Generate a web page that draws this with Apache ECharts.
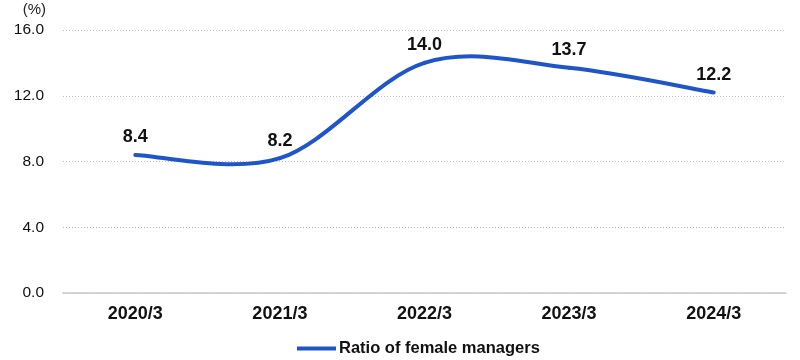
<!DOCTYPE html>
<html><head><meta charset="utf-8">
<script src="https://cdn.jsdelivr.net/npm/echarts@6/dist/echarts.min.js"></script>
<style>html,body{margin:0;padding:0;background:#fff}#c{width:800px;height:360px}</style>
</head><body><div id="c"></div>
<script>
const categories = ['2020/3','2021/3','2022/3','2023/3','2024/3'];
const ratioValues = [8.4, 8.2, 14.0, 13.7, 12.2];
const yTicks = [0, 4, 8, 12, 16];
const seriesName = 'Ratio of female managers';
const lineColor = '#1f55c8';

function renderSpline(params, api) {
  const i = params.dataIndex;
  const n = ratioValues.length;
  if (i >= n - 1) return null;
  const pt = k => api.coord([Math.max(0, Math.min(n - 1, k)), ratioValues[Math.max(0, Math.min(n - 1, k))]]);
  const p0 = pt(i - 1), p1 = pt(i), p2 = pt(i + 1), p3 = pt(i + 2);
  return {
    type: 'bezierCurve',
    shape: {
      x1: p1[0], y1: p1[1], x2: p2[0], y2: p2[1],
      cpx1: p1[0] + (p2[0] - p0[0]) / 6, cpy1: p1[1] + (p2[1] - p0[1]) / 6,
      cpx2: p2[0] - (p3[0] - p1[0]) / 6, cpy2: p2[1] - (p3[1] - p1[1]) / 6
    },
    style: {stroke: lineColor, lineWidth: 4, fill: null, lineCap: 'round'}
  };
}

const chart = echarts.init(document.getElementById('c'));
chart.setOption({
  animation: false,
  textStyle: {fontFamily: 'Liberation Sans, Arial, sans-serif'},
  grid: {left: 63, right: 14, top: 30, bottom: 67},
  legend: {
    top: 340, left: 297, padding: 0, itemWidth: 39, itemHeight: 4, icon: 'rect', itemGap: 10,
    textStyle: {fontSize: 16.5, fontWeight: 'bold', color: '#111', padding: [0, 0, 0, -2]},
    data: [seriesName]
  },
  xAxis: {
    type: 'category', data: categories, boundaryGap: true,
    axisLine: {lineStyle: {color: '#c8c8c8', width: 1.5}},
    axisTick: {show: false},
    axisLabel: {fontSize: 18, fontWeight: 'bold', color: '#111', margin: 12}
  },
  yAxis: {
    type: 'value', min: yTicks[0], max: yTicks[yTicks.length - 1], interval: 4,
    name: '(%)', nameLocation: 'end', nameGap: 13,
    nameTextStyle: {fontSize: 15, color: '#222', align: 'right', padding: [0, 17, 0, 0]},
    axisLine: {show: false}, axisTick: {show: false},
    axisLabel: {fontSize: 15.5, color: '#111', margin: 19, formatter: v => v.toFixed(1)},
    splitLine: {lineStyle: {color: '#bdbdbd', type: [1, 2], width: 1}}
  },
  series: [{
    name: seriesName, type: 'custom', renderItem: renderSpline,
    data: ratioValues.map((v, i) => [i, v]), encode: {x: 0, y: 1},
    itemStyle: {color: lineColor}, z: 3
  }, {
    name: 'labels', type: 'line', data: ratioValues,
    symbol: 'circle', symbolSize: 1, itemStyle: {color: 'rgba(0,0,0,0)'},
    lineStyle: {width: 0, opacity: 0}, z: 4,
    label: {show: true, position: 'top', distance: 8, fontSize: 18, fontWeight: 'bold', color: '#111', formatter: p => p.value.toFixed(1)}
  }]
});
</script></body></html>
